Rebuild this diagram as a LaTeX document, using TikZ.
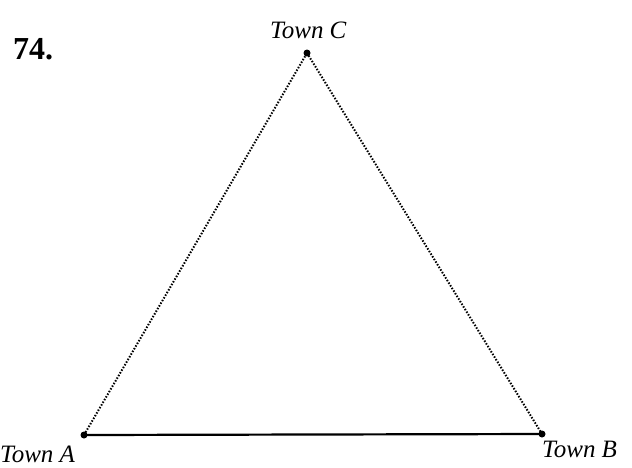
\documentclass[tikz,border=0pt]{standalone}
\usepackage{fontspec}
\setmainfont{Liberation Serif}
\begin{document}
\begin{tikzpicture}[x=1pt,y=-1pt,
  town/.style={circle,fill=black,inner sep=0pt,minimum size=7pt},
  lbl/.style={inner sep=0pt,anchor=base west,font=\fontsize{25}{29}\selectfont\itshape},
  road/.style={line width=2.2pt},
  path dotted/.style={line width=2pt,dash pattern=on 1.5pt off 1.6pt}]
\useasboundingbox (0,0) rectangle (632,467);
\node[inner sep=0pt,anchor=base west,font=\fontsize{32}{36}\selectfont\bfseries] (num) at (13,59) {74.};
\node[town] (A) at (84,435) {};
\node[town] (B) at (542,434) {};
\node[town] (C) at (307,53) {};
\node[lbl] (la) at (0,462) {Town A};
\node[lbl] (lb) at (542,457) {Town B};
\node[lbl] (lc) at (270,38) {Town C};
\draw[road] (A.center) -- (B.center);
\draw[path dotted] (A.center) -- (C.center);
\draw[path dotted] (C.center) -- (B.center);
\end{tikzpicture}
\end{document}
